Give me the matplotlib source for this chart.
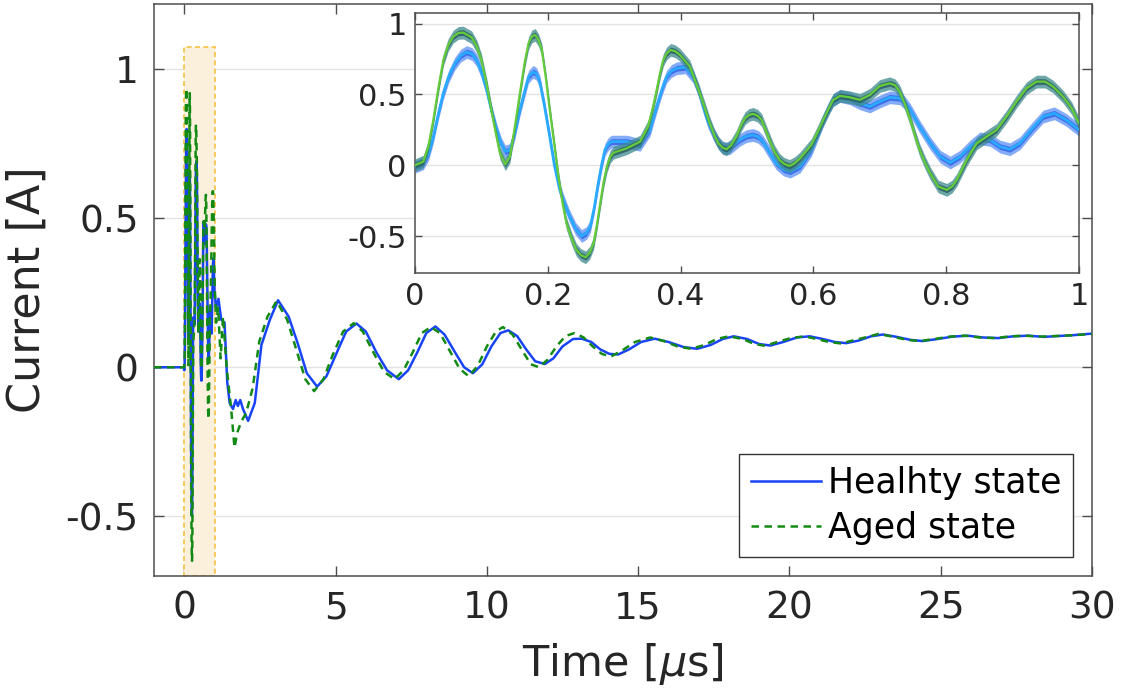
import numpy as np
import matplotlib
matplotlib.use("Agg")
import matplotlib.pyplot as plt
from matplotlib.patches import Rectangle

# zoomed window 0..1 us (inset)
t_zoom = [0.0, 0.0126, 0.0205, 0.0276, 0.035, 0.0427, 0.051, 0.0602, 0.069, 0.0778, 0.086,
          0.0928, 0.1, 0.108, 0.115, 0.123, 0.13, 0.136, 0.143, 0.15, 0.158, 0.165, 0.171,
          0.178, 0.183, 0.188, 0.195, 0.203, 0.21, 0.218, 0.226, 0.233, 0.242, 0.251, 0.258,
          0.264, 0.27, 0.276, 0.281, 0.286, 0.291, 0.296, 0.319, 0.339, 0.354, 0.36, 0.367,
          0.373, 0.379, 0.386, 0.394, 0.407, 0.419, 0.427, 0.434, 0.441, 0.449, 0.457, 0.464,
          0.474, 0.489, 0.499, 0.509, 0.517, 0.524, 0.534, 0.544, 0.555, 0.565, 0.58, 0.597,
          0.606, 0.615, 0.623, 0.63, 0.64, 0.655, 0.67, 0.685, 0.7, 0.715, 0.73, 0.738, 0.746,
          0.76, 0.776, 0.791, 0.806, 0.821, 0.836, 0.851, 0.866, 0.881, 0.896, 0.911, 0.928,
          0.946, 0.963, 0.981, 1.0]
healthy_zoom = [-0.01, 0.014, 0.08, 0.2, 0.36, 0.51, 0.63, 0.72, 0.775, 0.80, 0.785,
                0.744, 0.66, 0.532, 0.39, 0.25, 0.15, 0.097, 0.108, 0.22, 0.39, 0.52, 0.626,
                0.66, 0.645, 0.59, 0.42, 0.2, 0.0, -0.174, -0.28, -0.363, -0.45, -0.5, -0.48,
                -0.433, -0.3, -0.127, 0.0, 0.108, 0.15, 0.167, 0.167, 0.144, 0.25, 0.35, 0.462,
                0.55, 0.626, 0.665, 0.685, 0.692, 0.626, 0.53, 0.415, 0.31, 0.226, 0.16, 0.12,
                0.12, 0.179, 0.205, 0.214, 0.2, 0.167, 0.09, 0.014, -0.03, -0.045, -0.009, 0.108,
                0.21, 0.32, 0.4, 0.46, 0.49, 0.473, 0.438, 0.415, 0.45, 0.48, 0.473, 0.44, 0.39,
                0.273, 0.155, 0.061, 0.019, 0.061, 0.132, 0.19, 0.179, 0.132, 0.113, 0.155, 0.25,
                0.344, 0.367, 0.32, 0.25]

t_zoom_aged = [0.0, 0.0126, 0.02, 0.0276, 0.035, 0.0427, 0.05, 0.0577, 0.0655, 0.0728, 0.0853,
               0.093, 0.1, 0.108, 0.115, 0.122, 0.128, 0.136, 0.143, 0.15, 0.158, 0.165, 0.171,
               0.176, 0.181, 0.186, 0.191, 0.197, 0.203, 0.21, 0.216, 0.222, 0.228, 0.236, 0.243,
               0.25, 0.257, 0.263, 0.269, 0.274, 0.279, 0.284, 0.289, 0.294, 0.299, 0.319, 0.339,
               0.351, 0.358, 0.364, 0.369, 0.374, 0.379, 0.385, 0.392, 0.399, 0.414, 0.429, 0.444,
               0.451, 0.457, 0.463, 0.469, 0.476, 0.484, 0.491, 0.497, 0.503, 0.509, 0.516, 0.522,
               0.528, 0.534, 0.541, 0.549, 0.556, 0.564, 0.572, 0.58, 0.597, 0.606, 0.615, 0.623,
               0.63, 0.64, 0.655, 0.67, 0.685, 0.7, 0.715, 0.723, 0.73, 0.738, 0.746, 0.753, 0.76,
               0.768, 0.776, 0.788, 0.801, 0.809, 0.816, 0.831, 0.846, 0.861, 0.876, 0.891, 0.906,
               0.921, 0.936, 0.949, 0.961, 0.976, 0.989, 1.0]
aged_zoom = [0.0, 0.026, 0.13, 0.32, 0.54, 0.744, 0.85, 0.909, 0.935, 0.937, 0.904,
             0.84, 0.744, 0.57, 0.39, 0.22, 0.085, 0.007, 0.061, 0.26, 0.509, 0.72, 0.862,
             0.91, 0.921, 0.885, 0.815, 0.62, 0.39, 0.14, -0.08, -0.26, -0.41, -0.52, -0.598,
             -0.635, -0.65, -0.62, -0.551, -0.42, -0.268, -0.12, -0.009, 0.06, 0.089, 0.12, 0.167,
             0.273, 0.4, 0.532, 0.65, 0.744, 0.79, 0.815, 0.805, 0.78, 0.697, 0.509, 0.297,
             0.21, 0.155, 0.125, 0.113, 0.14, 0.203, 0.28, 0.332, 0.355, 0.363, 0.35, 0.32,
             0.25, 0.179, 0.1, 0.038, 0.01, -0.005, 0.015, 0.049, 0.144, 0.23, 0.32, 0.4,
             0.462, 0.49, 0.48, 0.462, 0.497, 0.56, 0.579, 0.565, 0.52, 0.43, 0.32, 0.21, 0.108,
             0.02, -0.057, -0.15, -0.174, -0.15, -0.104, 0.038, 0.155, 0.203, 0.25, 0.344, 0.45,
             0.544, 0.591, 0.591, 0.556, 0.485, 0.403, 0.297]

# full record outside the zoom window
t_pre = [-1.0, -0.02]
i_pre = [0.0, 0.0]

t_healthy_post = [1.05, 1.13, 1.22, 1.33, 1.42, 1.5, 1.61, 1.7, 1.77, 1.85, 1.94, 2.11, 2.33,
                  2.55, 2.83, 3.1, 3.45, 3.75, 4.05, 4.39, 4.7, 5.0, 5.35, 5.69, 6.0, 6.35,
                  6.7, 7.09, 7.4, 7.7, 8.0, 8.3, 8.6, 8.95, 9.25, 9.54, 9.85, 10.15, 10.45,
                  10.71, 11.0, 11.3, 11.6, 11.92, 12.2, 12.5, 12.85, 13.13, 13.45, 13.75, 14.05,
                  14.34, 14.7, 15.1, 15.55, 16.0, 16.5, 16.95, 17.4, 17.8, 18.16, 18.6, 19.0,
                  19.37, 19.8, 20.25, 20.67, 21.1, 21.5, 21.88, 22.3, 22.7, 23.09, 23.5, 24.0,
                  24.4, 24.9, 25.4, 25.9, 26.4, 26.9, 27.4, 27.9, 28.4, 28.9, 29.4, 30.0]
i_healthy_post = [0.2, 0.23, 0.16, 0.15, -0.05, -0.12, -0.14, -0.11, -0.13, -0.11, -0.14, -0.18, -0.12,
                  0.075, 0.16, 0.225, 0.17, 0.08, -0.02, -0.065, -0.03, 0.04, 0.12, 0.147, 0.12, 0.05,
                  -0.01, -0.04, -0.01, 0.05, 0.115, 0.137, 0.11, 0.05, 0.0, -0.02, 0.01, 0.07, 0.115,
                  0.124, 0.105, 0.06, 0.02, 0.011, 0.03, 0.07, 0.095, 0.096, 0.085, 0.06, 0.045,
                  0.043, 0.06, 0.085, 0.096, 0.085, 0.068, 0.062, 0.075, 0.095, 0.104, 0.095, 0.078,
                  0.073, 0.085, 0.1, 0.104, 0.095, 0.085, 0.081, 0.09, 0.104, 0.11, 0.103, 0.092,
                  0.088, 0.095, 0.103, 0.106, 0.1, 0.098, 0.104, 0.106, 0.102, 0.105, 0.108, 0.113]

t_aged_post = [1.05, 1.12, 1.2, 1.28, 1.4, 1.55, 1.66, 1.75, 1.82, 1.95, 2.04, 2.26, 2.48, 2.75,
               3.05, 3.4, 3.7, 4.0, 4.29, 4.6, 4.9, 5.25, 5.6, 5.9, 6.25, 6.6, 6.95, 7.25, 7.55,
               7.85, 8.15, 8.45, 8.8, 9.1, 9.4, 9.7, 10.0, 10.3, 10.53, 10.85, 11.15, 11.45, 11.73,
               12.0, 12.3, 12.6, 12.9, 13.2, 13.5, 13.8, 14.1, 14.45, 14.9, 15.4, 15.85, 16.3,
               16.75, 17.2, 17.6, 18.0, 18.45, 18.85, 19.2, 19.6, 20.05, 20.5, 20.9, 21.3, 21.7,
               22.1, 22.5, 22.95, 23.4, 23.9, 24.3, 24.8, 25.3, 25.8, 26.3, 26.8, 27.3, 27.8,
               28.3, 28.8, 29.3, 30.0]
i_aged_post = [0.15, 0.2, 0.03, 0.17, 0.0, -0.14, -0.27, -0.22, -0.2, -0.17, -0.155, -0.07, 0.087, 0.17,
               0.222, 0.16, 0.06, -0.04, -0.08, -0.04, 0.04, 0.12, 0.148, 0.12, 0.05, -0.015, -0.04,
               -0.01, 0.05, 0.115, 0.135, 0.115, 0.05, -0.005, -0.03, 0.005, 0.07, 0.12, 0.135, 0.11,
               0.06, 0.01, 0.0, 0.025, 0.07, 0.105, 0.115, 0.1, 0.07, 0.045, 0.036, 0.055, 0.085, 0.1,
               0.088, 0.07, 0.062, 0.075, 0.095, 0.104, 0.095, 0.078, 0.072, 0.085, 0.098, 0.104,
               0.095, 0.085, 0.08, 0.09, 0.1, 0.112, 0.103, 0.092, 0.088, 0.095, 0.103, 0.106, 0.1,
               0.098, 0.104, 0.106, 0.103, 0.105, 0.107, 0.112]

legend_labels = ["Healhty state", "Aged state"]

# build full series
t_healthy = t_pre + t_zoom + t_healthy_post
i_healthy = i_pre + healthy_zoom + i_healthy_post
t_aged = t_pre + t_zoom_aged + t_aged_post
i_aged = i_pre + aged_zoom + i_aged_post

blue = "#1844f5"
green = "#138a13"
spine = "#4d4d4d"
txt = "#262626"

fig = plt.figure(figsize=(11.21, 6.97), dpi=100)
ax = fig.add_axes([0.1374, 0.174, 0.8367, 0.8203])

ax.add_patch(Rectangle((0, -0.7), 1, 1.775, facecolor="#faf0dc", edgecolor="#f5c242",
                       linestyle=(0, (3, 2)), linewidth=1.2, zorder=1))
ax.plot(t_healthy, i_healthy, color=blue, lw=1.8, label=legend_labels[0], zorder=3)
ax.plot(t_aged, i_aged, color=green, lw=1.8, dashes=(3, 2.2), label=legend_labels[1], zorder=4)

ax.set_xlim(-1, 30)
ax.set_ylim(-0.7, 1.22)
ax.set_xticks(range(0, 31, 5))
ax.set_yticks([-0.5, 0, 0.5, 1])
ax.set_yticklabels(["-0.5", "0", "0.5", "1"])
ax.grid(axis="y", color="#e3e3e3", lw=1.0)
ax.set_axisbelow(True)
ax.tick_params(direction="in", length=7, width=1, top=True, right=True,
               labelsize=27, colors=spine, labelcolor=txt, pad=11)
for s in ax.spines.values():
    s.set_color(spine)
    s.set_linewidth(1.1)
ax.set_xlabel(r"Time [$\mu$s]", fontsize=31, color=txt, labelpad=10)
ax.set_ylabel("Current [A]", fontsize=32, color=txt, labelpad=12)

leg = ax.legend(loc="lower right", bbox_to_anchor=(0.98, 0.033), borderaxespad=0,
                fontsize=25, frameon=True, fancybox=False, framealpha=1,
                edgecolor="#333333", handlelength=2.0, handletextpad=0.2,
                borderpad=0.35, labelspacing=0.3)
leg.get_frame().set_linewidth(1.0)

# inset
axi = fig.add_axes([0.3702, 0.608, 0.5923, 0.373])
tz = np.array(t_zoom)
hz = np.array(healthy_zoom)
tza = np.array(t_zoom_aged)
az = np.array(aged_zoom)
axi.fill_between(tz, hz - 0.045, hz + 0.045, color="#5b8ff5", alpha=0.75, lw=0, zorder=2)
axi.fill_between(tz, hz - 0.02, hz + 0.02, color="#2f5de6", alpha=0.8, lw=0, zorder=2)
axi.plot(tz, hz, color="#2aaaff", lw=2.0, zorder=3)
axi.fill_between(tza, az - 0.045, az + 0.045, color="#3d8a8e", alpha=0.75, lw=0, zorder=4)
axi.fill_between(tza, az - 0.02, az + 0.02, color="#2b5f63", alpha=0.85, lw=0, zorder=4)
axi.plot(tza, az, color="#64cc3a", lw=1.6, zorder=5)

axi.set_xlim(0, 1)
axi.set_ylim(-0.763, 1.074)
axi.set_xticks([0, 0.2, 0.4, 0.6, 0.8, 1])
axi.set_xticklabels(["0", "0.2", "0.4", "0.6", "0.8", "1"])
axi.set_yticks([-0.5, 0, 0.5, 1])
axi.set_yticklabels(["-0.5", "0", "0.5", "1"])
axi.grid(axis="y", color="#e3e3e3", lw=1.0)
axi.set_axisbelow(True)
axi.tick_params(direction="in", length=5, width=1, top=True, right=True,
                labelsize=22, colors=spine, labelcolor=txt, pad=6)
for s in axi.spines.values():
    s.set_color(spine)
    s.set_linewidth(1.1)

fig.savefig("out.png", dpi=100)
